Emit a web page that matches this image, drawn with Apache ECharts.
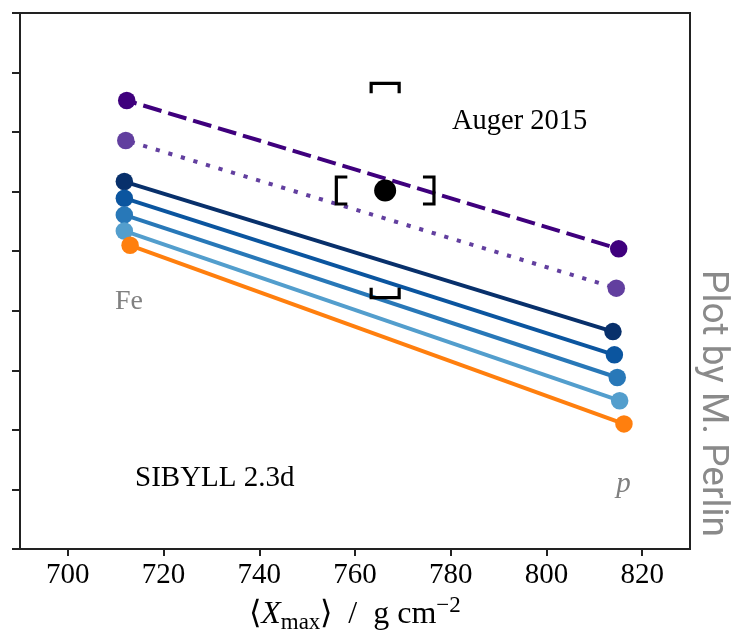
<!DOCTYPE html>
<html>
<head>
<meta charset="utf-8">
<script src="https://cdn.jsdelivr.net/npm/echarts@6/dist/echarts.min.js"></script>
<style>
html,body{margin:0;padding:0;background:#fff;}
#chart{width:731px;height:637px;}
</style>
</head>
<body>
<div id="chart"></div>
<script>
// ---- data ----
const seriesNames = ['model A', 'model B', 'model C', 'model D', 'model E', 'model F', 'model G'];
const xFe = [712.3, 712.1, 711.8, 711.8, 711.8, 711.8, 713.0];
const yFe = [7.53, 6.86, 6.17, 5.89, 5.61, 5.34, 5.10];
const xP  = [815.1, 814.6, 813.9, 814.2, 814.8, 815.3, 816.2];
const yP  = [5.04, 4.38, 3.65, 3.26, 2.88, 2.49, 2.10];
const augerX = [766.3];
const augerY = [6.02];
const augerSysX = [10.2];
const augerSysY = [1.80];
const xTicks = [700, 720, 740, 760, 780, 800, 820];

// ---- styles ----
const colors = ['#3f007d', '#623f9f', '#08306b', '#0b559f', '#2878b8', '#539ecd', '#ff7f0e'];
const lineTypes = [[19, 7], [4.2, 8.9], 'solid', 'solid', 'solid', 'solid', 'solid'];
const dashOffsets = [8.7, 8.0, 0, 0, 0, 0, 0];
const serif = '"Liberation Serif", "Times New Roman", serif';

const chart = echarts.init(document.getElementById('chart'), null, {renderer: 'canvas'});

const series = seriesNames.map((n, i) => ({
  name: n,
  type: 'line',
  data: [[xFe[i], yFe[i]], [xP[i], yP[i]]],
  symbol: 'circle',
  symbolSize: 17.5,
  showSymbol: true,
  itemStyle: {color: colors[i], opacity: 1},
  lineStyle: {color: colors[i], width: 4, type: lineTypes[i], dashOffset: dashOffsets[i], cap: 'butt', opacity: 1},
  emphasis: {disabled: true},
  animation: false,
  z: 2
}));

series.push({
  name: 'Auger 2015 sys',
  type: 'custom',
  data: augerX.map((x, i) => [x, augerY[i], augerSysX[i], augerSysY[i]]),
  encode: {x: 0, y: 1},
  clip: false,
  z: 3,
  renderItem: function (params, api) {
    const cx = api.value(0), cy = api.value(1), ex = api.value(2), ey = api.value(3);
    const l = api.coord([cx - ex, cy]);
    const r = api.coord([cx + ex, cy]);
    const t = api.coord([cx, cy + ey]);
    const b = api.coord([cx, cy - ey]);
    const h = 13.5, w = 11, hw = 14, hh = 10;
    const st = {stroke: '#000', lineWidth: 3.2, fill: null, lineJoin: 'miter'};
    return {
      type: 'group',
      children: [
        {type: 'polyline', shape: {points: [[l[0] + w, l[1] - h], [l[0], l[1] - h], [l[0], l[1] + h], [l[0] + w, l[1] + h]]}, style: st},
        {type: 'polyline', shape: {points: [[r[0] - w, r[1] - h], [r[0], r[1] - h], [r[0], r[1] + h], [r[0] - w, r[1] + h]]}, style: st},
        {type: 'polyline', shape: {points: [[t[0] - hw, t[1] + hh], [t[0] - hw, t[1]], [t[0] + hw, t[1]], [t[0] + hw, t[1] + hh]]}, style: st},
        {type: 'polyline', shape: {points: [[b[0] - hw, b[1] - hh], [b[0] - hw, b[1]], [b[0] + hw, b[1]], [b[0] + hw, b[1] - hh]]}, style: st}
      ]
    };
  },
  animation: false
});

series.push({
  name: 'Auger 2015',
  type: 'scatter',
  data: augerX.map((x, i) => [x, augerY[i]]),
  symbol: 'circle',
  symbolSize: 22,
  itemStyle: {color: '#000', opacity: 1},
  emphasis: {disabled: true},
  z: 4,
  animation: false
});

const option = {
  animation: false,
  backgroundColor: '#fff',
  grid: {left: 20, right: 41, top: 13, bottom: 88, containLabel: false, outerBoundsMode: 'none', show: true, borderColor: '#222', borderWidth: 2, backgroundColor: 'transparent'},
  xAxis: {
    type: 'value',
    min: 690,
    max: 830,
    axisLine: {show: true, lineStyle: {color: '#222', width: 2}},
    axisTick: {show: true, inside: false, length: 7, lineStyle: {color: '#222', width: 2}, customValues: xTicks},
    axisLabel: {show: true, margin: 12, color: '#000', fontFamily: serif, fontSize: 29, customValues: xTicks},
    splitLine: {show: false},
    name: '{n|⟨}{i|X}{s|max}{n|⟩  /  g cm}{p|−2}',
    nameLocation: 'middle',
    nameGap: 42,
    nameTextStyle: {
      color: '#000',
      rich: {
        n: {fontFamily: serif, fontSize: 32, lineHeight: 40, color: '#000'},
        i: {fontFamily: serif, fontSize: 32, fontStyle: 'italic', lineHeight: 40, color: '#000'},
        s: {fontFamily: serif, fontSize: 23, lineHeight: 26, verticalAlign: 'bottom', color: '#000'},
        p: {fontFamily: serif, fontSize: 23, lineHeight: 30, verticalAlign: 'top', color: '#000'}
      }
    }
  },
  yAxis: {
    type: 'value',
    min: 0,
    max: 9,
    interval: 1,
    axisLine: {show: true, lineStyle: {color: '#222', width: 2}},
    axisTick: {show: true, inside: false, length: 8, lineStyle: {color: '#222', width: 2}},
    axisLabel: {show: false},
    splitLine: {show: false}
  },
  graphic: [
    {type: 'text', x: 452, y: 122, silent: true, style: {text: 'Auger 2015', fill: '#000', font: '28.5px ' + serif, textAlign: 'left', textVerticalAlign: 'middle'}},
    {type: 'text', x: 135, y: 478.5, silent: true, style: {text: 'SIBYLL 2.3d', fill: '#000', font: '29px ' + serif, textAlign: 'left', textVerticalAlign: 'middle'}},
    {type: 'text', x: 129, y: 302, silent: true, style: {text: 'Fe', fill: '#808080', font: '28px ' + serif, textAlign: 'center', textVerticalAlign: 'middle'}},
    {type: 'text', x: 623.5, y: 484, silent: true, style: {text: 'p', fill: '#808080', font: 'italic 29px ' + serif, textAlign: 'center', textVerticalAlign: 'middle'}},
    {type: 'text', x: 712.6, y: 403.5, rotation: -Math.PI / 2, silent: true, style: {text: 'Plot by M. Perlin', fill: '#8a8a8a', font: '37px Roboto', textAlign: 'center', textVerticalAlign: 'middle'}}
  ],
  series: series
};

chart.setOption(option);
</script>
</body>
</html>
